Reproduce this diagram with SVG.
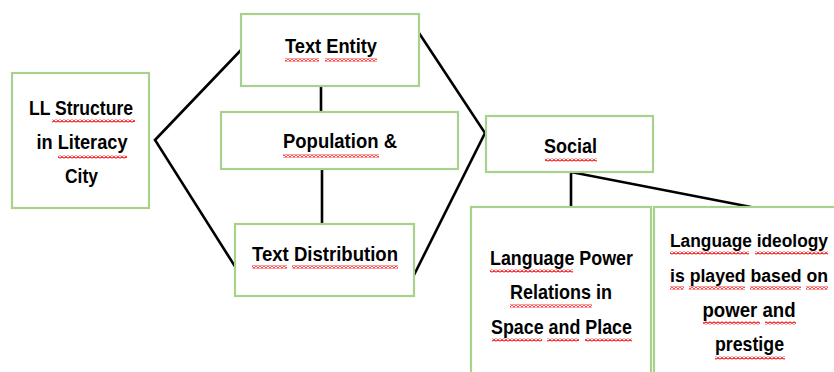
<svg xmlns="http://www.w3.org/2000/svg" width="834" height="372" viewBox="0 0 834 372">
  <style>
    .box { fill: #ffffff; stroke: #a9d18e; stroke-width: 2.2; }
    .lbl { font-family: "Liberation Sans", Arial, sans-serif; font-weight: bold; font-size: 21px; fill: #000000; text-anchor: middle; }
    .tight { font-size: 17.5px; }
    .link { stroke: #000000; stroke-width: 2.6; fill: none; stroke-linecap: round; }
    .spell { fill: url(#squiggle); }
  </style>
  <defs>
    <!-- red wavy spell-check underline -->
    <pattern id="squiggle" x="0" y="0" width="4" height="3" patternUnits="userSpaceOnUse">
      <path d="M0 2.5 L2 0.5 L4 2.5" fill="none" stroke="#f01010" stroke-width="1.1"/>
    </pattern>
  </defs>

  <rect width="834" height="372" fill="#ffffff"/>

  <!-- connectors -->
  <g id="connectors">
    <polyline class="link" points="241,50 155,140 236,268"/>
    <polyline class="link" points="419,33 485,133 414,275"/>
    <line class="link" x1="321" y1="86" x2="321" y2="112"/>
    <line class="link" x1="322" y1="170" x2="322" y2="224"/>
    <polyline class="link" points="571,208 571,172 751,207"/>
  </g>

  <g id="ll-structure">
    <rect class="box" x="12" y="73" width="137" height="135"/>
    <text class="lbl" x="81" y="115" textLength="104" lengthAdjust="spacingAndGlyphs">LL Structure</text>
    <text class="lbl" x="82" y="149" textLength="91" lengthAdjust="spacingAndGlyphs">in Literacy</text>
    <text class="lbl" x="81.5" y="183" textLength="33" lengthAdjust="spacingAndGlyphs">City</text>
    <rect class="spell" x="52" y="119.5" width="83" height="3"/>
    <rect class="spell" x="58" y="155.5" width="69" height="3"/>
  </g>

  <g id="text-entity">
    <rect class="box" x="241" y="14" width="178" height="72"/>
    <text class="lbl" x="331" y="53" textLength="92" lengthAdjust="spacingAndGlyphs">Text Entity</text>
    <rect class="spell" x="285" y="58.5" width="34" height="3"/>
    <rect class="spell" x="325" y="58.5" width="52" height="3"/>
  </g>

  <g id="population">
    <rect class="box" x="221" y="112" width="237" height="57"/>
    <text class="lbl" x="340" y="148" textLength="114" lengthAdjust="spacingAndGlyphs">Population &amp;</text>
    <rect class="spell" x="283" y="154.5" width="96" height="3"/>
  </g>

  <g id="text-distribution">
    <rect class="box" x="235" y="224" width="179" height="72"/>
    <text class="lbl" x="325" y="261" textLength="146" lengthAdjust="spacingAndGlyphs">Text Distribution</text>
    <rect class="spell" x="252" y="265.5" width="35" height="3"/>
    <rect class="spell" x="292" y="265.5" width="106" height="3"/>
  </g>

  <g id="social">
    <rect class="box" x="486" y="116" width="167" height="56"/>
    <text class="lbl" x="570.5" y="153" textLength="53" lengthAdjust="spacingAndGlyphs">Social</text>
    <rect class="spell" x="545" y="158.5" width="52" height="3"/>
  </g>

  <g id="power-relations">
    <rect class="box" x="471" y="207" width="180" height="180"/>
    <text class="lbl" x="561.5" y="265" textLength="143" lengthAdjust="spacingAndGlyphs">Language Power</text>
    <text class="lbl" x="561" y="299" textLength="102" lengthAdjust="spacingAndGlyphs">Relations in</text>
    <text class="lbl" x="561.5" y="334" textLength="141" lengthAdjust="spacingAndGlyphs">Space and Place</text>
    <rect class="spell" x="490" y="269.5" width="83" height="3"/>
    <rect class="spell" x="510" y="304.5" width="82" height="3"/>
    <rect class="spell" x="492" y="338.5" width="50" height="3"/>
    <rect class="spell" x="547" y="338.5" width="32" height="3"/>
    <rect class="spell" x="585" y="338.5" width="47" height="3"/>
  </g>

  <g id="language-ideology">
    <!-- right edge sits just past the canvas, so only three sides show -->
    <rect class="box" x="654" y="207" width="182" height="180"/>
    <text class="lbl tight" x="749" y="247" textLength="158" lengthAdjust="spacingAndGlyphs">Language ideology</text>
    <text class="lbl tight" x="749" y="282" textLength="158" lengthAdjust="spacingAndGlyphs">is played based on</text>
    <text class="lbl" x="749" y="317" textLength="93" lengthAdjust="spacingAndGlyphs">power and</text>
    <text class="lbl" x="749.5" y="351" textLength="69" lengthAdjust="spacingAndGlyphs">prestige</text>
    <rect class="spell" x="670" y="251.5" width="79" height="3"/>
    <rect class="spell" x="755" y="251.5" width="73" height="3"/>
    <rect class="spell" x="670" y="286.5" width="14" height="3"/>
    <rect class="spell" x="689" y="286.5" width="56" height="3"/>
    <rect class="spell" x="750" y="286.5" width="51" height="3"/>
    <rect class="spell" x="806" y="286.5" width="22" height="3"/>
    <rect class="spell" x="703" y="321.5" width="57" height="3"/>
    <rect class="spell" x="765" y="321.5" width="31" height="3"/>
    <rect class="spell" x="715" y="356.5" width="70" height="3"/>
  </g>
</svg>
